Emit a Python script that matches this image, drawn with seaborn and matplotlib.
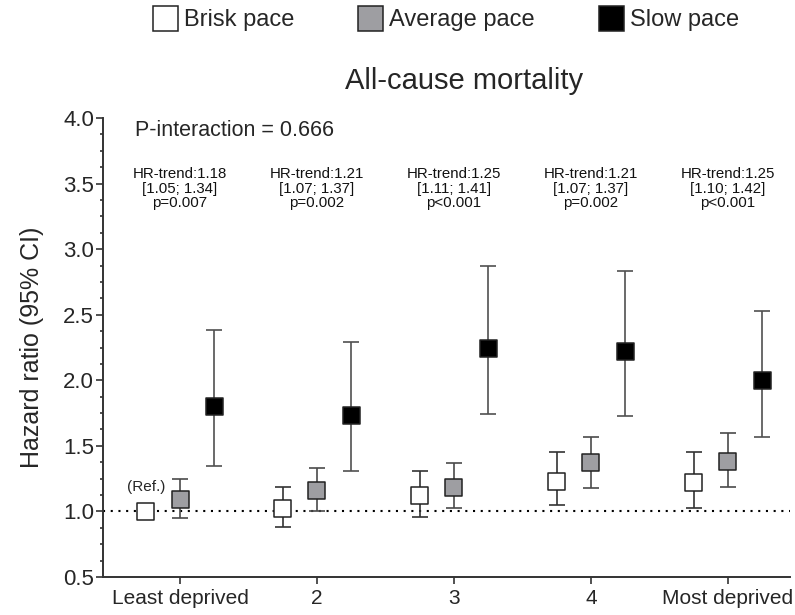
import matplotlib
matplotlib.use("Agg")
import numpy as np
import pandas as pd
import seaborn as sns
import matplotlib.pyplot as plt
from matplotlib.lines import Line2D
from matplotlib.ticker import MultipleLocator, FormatStrFormatter

# ---------------- data ----------------
groups = ["Least deprived", "2", "3", "4", "Most deprived"]
paces = ["Brisk pace", "Average pace", "Slow pace"]

brisk_hr = [1.00, 1.02, 1.12, 1.23, 1.22]
brisk_lo = [np.nan, 0.88, 0.96, 1.05, 1.03]
brisk_hi = [np.nan, 1.19, 1.31, 1.45, 1.45]

avg_hr = [1.09, 1.16, 1.18, 1.37, 1.38]
avg_lo = [0.95, 1.00, 1.03, 1.18, 1.19]
avg_hi = [1.25, 1.33, 1.37, 1.57, 1.60]

slow_hr = [1.80, 1.73, 2.24, 2.22, 2.00]
slow_lo = [1.35, 1.31, 1.74, 1.73, 1.57]
slow_hi = [2.38, 2.29, 2.87, 2.83, 2.53]

trend_labels = [
    "HR-trend:1.18\n[1.05; 1.34]\np=0.007",
    "HR-trend:1.21\n[1.07; 1.37]\np=0.002",
    "HR-trend:1.25\n[1.11; 1.41]\np<0.001",
    "HR-trend:1.21\n[1.07; 1.37]\np=0.002",
    "HR-trend:1.25\n[1.10; 1.42]\np<0.001",
]
title = "All-cause mortality"
p_interaction = "P-interaction = 0.666"
ylabel = "Hazard ratio (95% CI)"

fill_colors = {"Brisk pace": "#ffffff", "Average pace": "#9e9ea2", "Slow pace": "#000000"}
bar_colors = {"Brisk pace": "#333333", "Average pace": "#4a4a4a", "Slow pace": "#505050"}

rows = []
for p, hr, lo, hi in zip(paces, [brisk_hr, avg_hr, slow_hr],
                         [brisk_lo, avg_lo, slow_lo], [brisk_hi, avg_hi, slow_hi]):
    for gi, g in enumerate(groups):
        rows.append(dict(group=g, gi=gi, pace=p, hr=hr[gi], lo=lo[gi], hi=hi[gi]))
df = pd.DataFrame(rows)
offsets = {"Brisk pace": -0.25, "Average pace": 0.0, "Slow pace": 0.25}
df["x"] = df["gi"] + df["pace"].map(offsets)

# ---------------- figure ----------------
sns.set_theme(style="ticks")
plt.rcParams["font.family"] = ["Liberation Sans", "DejaVu Sans"]

fig = plt.figure(figsize=(7.95, 6.15), dpi=100)
ax = fig.add_axes([0.1296, 0.0618, 0.864, 0.7462])

# error bars
for p in paces:
    sub = df[(df["pace"] == p) & df["lo"].notna()]
    ax.errorbar(sub["x"], sub["hr"],
                yerr=[sub["hr"] - sub["lo"], sub["hi"] - sub["hr"]],
                fmt="none", ecolor=bar_colors[p], elinewidth=1.2,
                capsize=6, capthick=1.2, zorder=2)

# markers
sns.scatterplot(data=df, x="x", y="hr", hue="pace", palette=fill_colors,
                marker="s", s=150, edgecolor="#222222", linewidth=1.1,
                legend=False, ax=ax, zorder=3)

# reference line
ax.axhline(1.0, color="black", linewidth=1.5, linestyle=(0, (1, 2.7)), zorder=1)

ax.set_xlim(-0.562, 4.453)
ax.set_ylim(0.5, 4.0)
ax.set_xticks(range(len(groups)))
ax.set_xticklabels(groups, fontsize=15)
ax.yaxis.set_major_locator(MultipleLocator(0.5))
ax.yaxis.set_minor_locator(MultipleLocator(0.125))
ax.yaxis.set_major_formatter(FormatStrFormatter("%.1f"))
ax.tick_params(axis="y", which="major", labelsize=16, length=5, width=1.2, color="#333333", pad=1.5)
ax.tick_params(axis="y", which="minor", length=2.5, width=1.2, color="#333333")
ax.tick_params(axis="x", which="major", length=5, width=1.2, color="#333333", pad=4)
ax.set_xlabel("")
ax.set_ylabel(ylabel, fontsize=18, labelpad=14)
for side in ["top", "right"]:
    ax.spines[side].set_visible(False)
for side in ["left", "bottom"]:
    ax.spines[side].set_linewidth(1.4)
    ax.spines[side].set_color("#333333")

# annotations
for gi, lab in enumerate(trend_labels):
    ax.text(gi, 3.46, lab, ha="center", va="center", fontsize=10.8,
            linespacing=1.05, color="#111111")
ax.text(0.047, 0.974, p_interaction, transform=ax.transAxes, fontsize=15.5,
        ha="left", va="center")
bx = df[(df["pace"] == "Brisk pace") & (df["gi"] == 0)]
ax.text(bx["x"].iloc[0], 1.19, "(Ref.)", ha="center", va="center", fontsize=11)

fig.text(0.584, 0.868, title, ha="center", va="center", fontsize=21)

handles = [Line2D([], [], marker="s", linestyle="none", markersize=18,
                  markerfacecolor=fill_colors[p], markeredgecolor="#222222",
                  markeredgewidth=1.1) for p in paces]
fig.legend(handles, paces, loc="center", bbox_to_anchor=(0.561, 0.967), ncol=3,
           frameon=False, fontsize=17, handlelength=1.0, handletextpad=0.32,
           columnspacing=2.7, borderaxespad=0)

fig.savefig("out.png", dpi=100)
